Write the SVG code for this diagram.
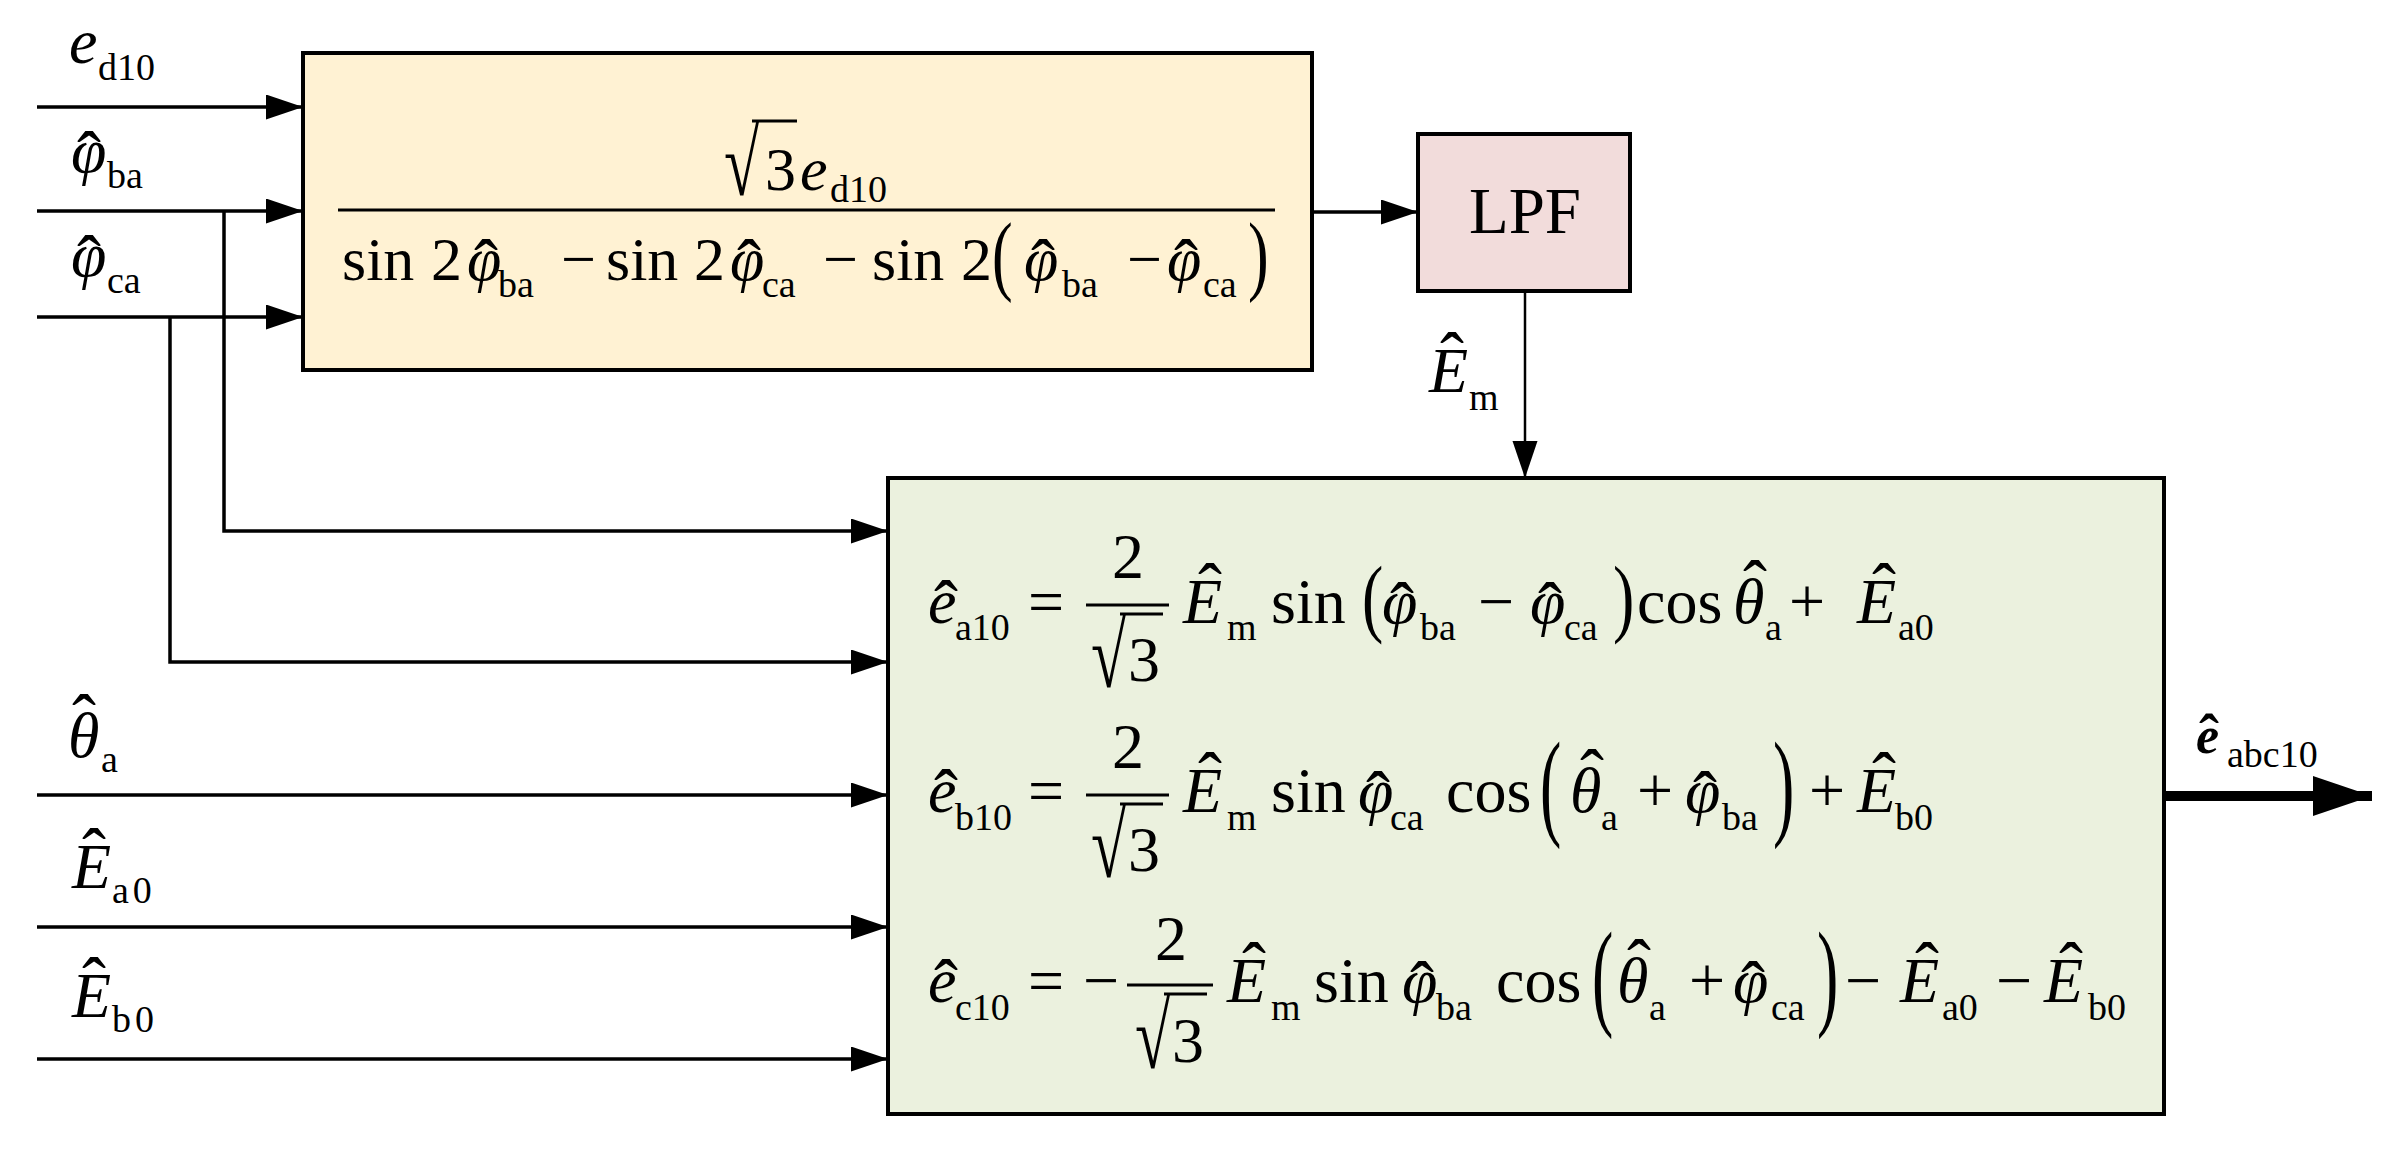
<svg xmlns="http://www.w3.org/2000/svg" width="2393" height="1153" viewBox="0 0 2393 1153">
<defs>
<style>
.t{font-family:"Liberation Serif","Times New Roman",serif;font-size:64px;fill:#000}
.y{font-size:62px}
.i{font-style:italic}
.s{font-family:"Liberation Serif","Times New Roman",serif;font-size:38px;font-style:normal;font-weight:normal;fill:#000}
.h{font-size:72px;font-style:normal;font-weight:normal}
.mid{text-anchor:middle}
.box{stroke:#000;stroke-width:4}
.w{fill:none;stroke:#000;stroke-width:3.5}
.bar{stroke:#000;stroke-width:3}
</style>
<marker id="ah" markerUnits="userSpaceOnUse" markerWidth="38" markerHeight="26" refX="37" refY="12.5" orient="auto">
<path d="M0,0 L37,12.5 L0,25 z" fill="#000"/>
</marker>
<marker id="ahb" markerUnits="userSpaceOnUse" markerWidth="60" markerHeight="42" refX="59" refY="20" orient="auto">
<path d="M0,0 L59,20 L0,40 z" fill="#000"/>
</marker>
</defs>
<rect width="2393" height="1153" fill="#fff"/>

<g id="connectors">
<path class="w" d="M37,107 H303" marker-end="url(#ah)"/>
<path class="w" d="M37,211 H303" marker-end="url(#ah)"/>
<path class="w" d="M37,317 H303" marker-end="url(#ah)"/>
<path class="w" d="M224,211 V531 H888" marker-end="url(#ah)"/>
<path class="w" d="M170,317 V662 H888" marker-end="url(#ah)"/>
<path class="w" d="M37,795 H888" marker-end="url(#ah)"/>
<path class="w" d="M37,927 H888" marker-end="url(#ah)"/>
<path class="w" d="M37,1059 H888" marker-end="url(#ah)"/>
<path class="w" d="M1312,212 H1418" marker-end="url(#ah)"/>
<path fill="none" stroke="#000" stroke-width="2.5" d="M1525,291 V478" marker-end="url(#ah)"/>
<path fill="none" stroke="#000" stroke-width="10" d="M2164,796 H2372" marker-end="url(#ahb)"/>
</g>

<g id="labels">
<text class="t i" x="69" y="63">e<tspan class="s" x="98" y="80">d10</tspan></text>
<text class="t i" x="71" y="172">φ<tspan class="h" x="77" y="181">ˆ</tspan><tspan class="s" x="107" y="188">ba</tspan></text>
<text class="t i" x="71" y="276">φ<tspan class="h" x="77" y="285">ˆ</tspan><tspan class="s" x="107" y="293">ca</tspan></text>
<text class="t i" x="68" y="757">θ<tspan class="h" x="72" y="744">ˆ</tspan><tspan class="s" x="101" y="772">a</tspan></text>
<text class="t i" x="72" y="888">E<tspan class="h" x="82" y="878">ˆ</tspan><tspan class="s" x="112" y="903" letter-spacing="4">a0</tspan></text>
<text class="t i" x="72" y="1017">E<tspan class="h" x="82" y="1007">ˆ</tspan><tspan class="s" x="112" y="1032" letter-spacing="4">b0</tspan></text>
<text class="t i" x="1429" y="392">E<tspan class="h" x="1440" y="382">ˆ</tspan><tspan class="s" x="1469" y="410">m</tspan></text>
<text class="t i" x="2196" y="753" style="font-weight:bold;font-size:52px">e<tspan class="h" x="2199" y="755" style="font-size:60px;font-weight:bold">ˆ</tspan><tspan class="s" x="2227" y="767">abc10</tspan></text>
</g>

<g id="node-formula">
<rect class="box" x="303" y="53" width="1009" height="317" fill="#FFF2D3"/>
<text class="t" transform="translate(724,195) scale(1,1.45)">√</text>
<line class="bar" x1="752" y1="121" x2="797" y2="121"/>
<text class="t y" x="765" y="190">3</text>
<text class="t y i" x="800" y="190">e<tspan class="s" x="830" y="202">d10</tspan></text>
<line class="bar" x1="338" y1="210" x2="1275" y2="210"/>
<text class="t y" x="342" y="280">sin</text><text class="t y" x="431" y="280">2</text>
<text class="t y i" x="467" y="280">φ<tspan class="h" x="474" y="289">ˆ</tspan><tspan class="s" x="498" y="297">ba</tspan></text>
<text class="t y" x="561" y="280">−</text>
<text class="t y" x="606" y="280">sin</text><text class="t y" x="694" y="280">2</text>
<text class="t y i" x="730" y="280">φ<tspan class="h" x="737" y="289">ˆ</tspan><tspan class="s" x="762" y="297">ca</tspan></text>
<text class="t y" x="823" y="280">−</text>
<text class="t y" x="872" y="280">sin</text><text class="t y" x="961" y="280">2</text>
<text class="t y" transform="translate(992,284) scale(1,1.43)">(</text>
<text class="t y i" x="1024" y="280">φ<tspan class="h" x="1031" y="289">ˆ</tspan><tspan class="s" x="1062" y="297">ba</tspan></text>
<text class="t y" x="1127" y="280">−</text>
<text class="t y i" x="1167" y="280">φ<tspan class="h" x="1174" y="289">ˆ</tspan><tspan class="s" x="1203" y="297">ca</tspan></text>
<text class="t y" transform="translate(1248,284) scale(1,1.43)">)</text>
</g>

<g id="node-lpf">
<rect class="box" x="1418" y="134" width="212" height="157" fill="#F2DCDB"/>
<text class="t mid" x="1525" y="233" style="font-size:65px">LPF</text>
</g>

<g id="node-equations">
<rect class="box" x="888" y="478" width="1276" height="636" fill="#EBF1DE"/>
<!-- eq1 -->
<text class="t i" x="928" y="623">e<tspan class="h" x="934" y="630">ˆ</tspan><tspan class="s" x="955" y="640">a10</tspan></text>
<text class="t" x="1028" y="623">=</text>
<text class="t mid" x="1128" y="578">2</text>
<line class="bar" x1="1086" y1="605" x2="1169" y2="605"/>
<text class="t" transform="translate(1091,687) scale(1,1.45)">√</text><line class="bar" x1="1120" y1="614" x2="1163" y2="614"/><text class="t" x="1128" y="681">3</text>
<text class="t i" x="1183" y="623">E<tspan class="h" x="1198" y="613">ˆ</tspan><tspan class="s" x="1227" y="640">m</tspan></text>
<text class="t" x="1271" y="623">sin</text>
<text class="t" transform="translate(1362,626) scale(1,1.345)">(</text>
<text class="t i" x="1382" y="623">φ<tspan class="h" x="1390" y="632">ˆ</tspan><tspan class="s" x="1420" y="640">ba</tspan></text>
<text class="t" x="1478" y="623">−</text>
<text class="t i" x="1530" y="623">φ<tspan class="h" x="1538" y="632">ˆ</tspan><tspan class="s" x="1564" y="640">ca</tspan></text>
<text class="t" transform="translate(1613,626) scale(1,1.345)">)</text>
<text class="t" x="1637" y="623">cos</text>
<text class="t i" x="1733" y="623">θ<tspan class="h" x="1743" y="610">ˆ</tspan><tspan class="s" x="1765" y="640">a</tspan></text>
<text class="t" x="1789" y="623">+</text>
<text class="t i" x="1857" y="623">E<tspan class="h" x="1872" y="613">ˆ</tspan><tspan class="s" x="1898" y="640">a0</tspan></text>
<!-- eq2 -->
<text class="t i" x="928" y="812">e<tspan class="h" x="934" y="819">ˆ</tspan><tspan class="s" x="955" y="830">b10</tspan></text>
<text class="t" x="1028" y="812">=</text>
<text class="t mid" x="1128" y="768">2</text>
<line class="bar" x1="1086" y1="795" x2="1169" y2="795"/>
<text class="t" transform="translate(1091,877) scale(1,1.45)">√</text><line class="bar" x1="1120" y1="804" x2="1163" y2="804"/><text class="t" x="1128" y="871">3</text>
<text class="t i" x="1183" y="812">E<tspan class="h" x="1198" y="802">ˆ</tspan><tspan class="s" x="1227" y="830">m</tspan></text>
<text class="t" x="1271" y="812">sin</text>
<text class="t i" x="1358" y="812">φ<tspan class="h" x="1366" y="821">ˆ</tspan><tspan class="s" x="1390" y="830">ca</tspan></text>
<text class="t" x="1446" y="812">cos</text>
<text class="t" transform="translate(1540,824) scale(1,1.845)">(</text>
<text class="t i" x="1570" y="812">θ<tspan class="h" x="1580" y="799">ˆ</tspan><tspan class="s" x="1601" y="830">a</tspan></text>
<text class="t" x="1637" y="812">+</text>
<text class="t i" x="1685" y="812">φ<tspan class="h" x="1693" y="821">ˆ</tspan><tspan class="s" x="1722" y="830">ba</tspan></text>
<text class="t" transform="translate(1773,824) scale(1,1.845)">)</text>
<text class="t" x="1809" y="812">+</text>
<text class="t i" x="1857" y="812">E<tspan class="h" x="1872" y="802">ˆ</tspan><tspan class="s" x="1895" y="830">b0</tspan></text>
<!-- eq3 -->
<text class="t i" x="928" y="1002">e<tspan class="h" x="934" y="1009">ˆ</tspan><tspan class="s" x="955" y="1020">c10</tspan></text>
<text class="t" x="1028" y="1002">=</text>
<text class="t" x="1083" y="1002">−</text>
<text class="t mid" x="1171" y="960">2</text>
<line class="bar" x1="1127" y1="985" x2="1213" y2="985"/>
<text class="t" transform="translate(1135,1068) scale(1,1.45)">√</text><line class="bar" x1="1164" y1="994" x2="1207" y2="994"/><text class="t" x="1172" y="1062">3</text>
<text class="t i" x="1227" y="1002">E<tspan class="h" x="1242" y="992">ˆ</tspan><tspan class="s" x="1271" y="1020">m</tspan></text>
<text class="t" x="1314" y="1002">sin</text>
<text class="t i" x="1402" y="1002">φ<tspan class="h" x="1410" y="1011">ˆ</tspan><tspan class="s" x="1436" y="1020">ba</tspan></text>
<text class="t" x="1496" y="1002">cos</text>
<text class="t" transform="translate(1592,1014) scale(1,1.862)">(</text>
<text class="t i" x="1617" y="1002">θ<tspan class="h" x="1627" y="989">ˆ</tspan><tspan class="s" x="1649" y="1020">a</tspan></text>
<text class="t" x="1689" y="1002">+</text>
<text class="t i" x="1733" y="1002">φ<tspan class="h" x="1741" y="1011">ˆ</tspan><tspan class="s" x="1771" y="1020">ca</tspan></text>
<text class="t" transform="translate(1817,1014) scale(1,1.862)">)</text>
<text class="t" x="1845" y="1002">−</text>
<text class="t i" x="1900" y="1002">E<tspan class="h" x="1915" y="992">ˆ</tspan><tspan class="s" x="1942" y="1020">a0</tspan></text>
<text class="t" x="1996" y="1002">−</text>
<text class="t i" x="2044" y="1002">E<tspan class="h" x="2059" y="992">ˆ</tspan><tspan class="s" x="2088" y="1020">b0</tspan></text>
</g>
</svg>
